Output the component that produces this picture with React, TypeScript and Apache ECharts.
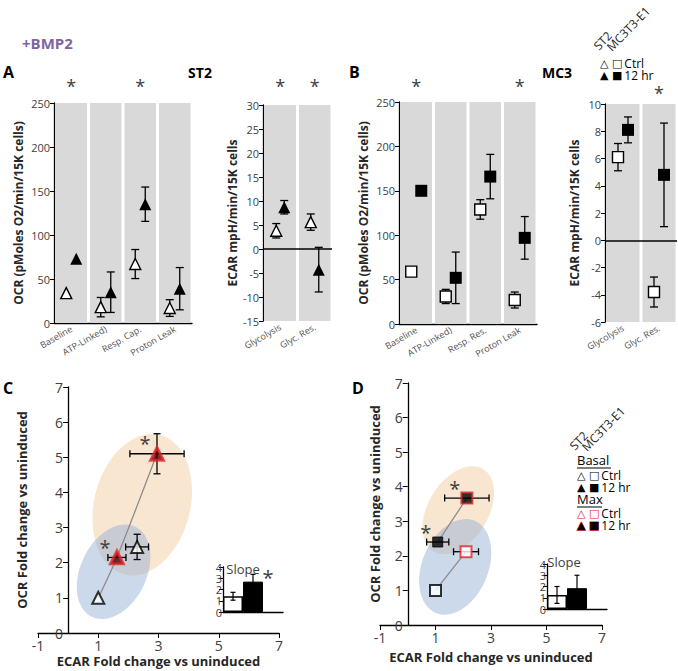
import React, { useEffect, useRef } from 'react';
import * as echarts from 'echarts';

const FONT = '"Open Sans", "Noto Sans", sans-serif';
const SYM_FONT = '"DejaVu Sans", sans-serif';

// ---------- DATA ----------
const ocrCatsA = ['Baseline', 'ATP-Linked)', 'Resp. Cap.', 'Proton Leak'];
const ocrCatsB = ['Baseline', 'ATP-Linked)', 'Resp. Res.', 'Proton Leak'];
const ecarCats = ['Glycolysis', 'Glyc. Res.'];

const st2OcrCtrl = [34, 18, 67, 17];
const st2OcrCtrlErr = [0, 11, 16.5, 9.5];
const st2Ocr12 = [73, 35, 135, 39];
const st2Ocr12Err = [0, 23, 19.5, 24];
const st2OcrStars = [true, false, true, false];

const st2EcarCtrl = [3.8, 5.6];
const st2EcarCtrlErr = [1.5, 1.7];
const st2Ecar12 = [8.7, -4.3];
const st2Ecar12Err = [1.4, 4.65];
const st2EcarStars = [true, true];

const mc3OcrCtrl = [59, 31, 129, 27];
const mc3OcrCtrlErr = [0, 8, 11, 9];
const mc3Ocr12 = [150, 52, 166, 97];
const mc3Ocr12Err = [0, 29, 25, 24];
const mc3OcrStars = [true, false, false, true];

const mc3EcarCtrl = [6.1, -3.8];
const mc3EcarCtrlErr = [1.0, 1.1];
const mc3Ecar12 = [8.1, 4.8];
const mc3Ecar12Err = [0.95, 3.8];
const mc3EcarStars = [false, true];

// C: ST2 fold change (Basal Ctrl, Basal 12 hr, Max Ctrl, Max 12 hr)
const cX = [1, 2.29, 1.62, 2.95];
const cY = [1, 2.45, 2.15, 5.1];
const cXErr = [0, 0.38, 0.3, 0.9];
const cYErr = [0, 0.36, 0.05, 0.57];
const cStars = [false, false, true, true];
const cLineOrder = [[0, 2, 3]];

// D: MC3T3-E1 fold change
const dX = [1, 1.08, 2.1, 2.13];
const dY = [1, 2.4, 2.12, 3.67];
const dXErr = [0, 0.4, 0.45, 0.8];
const dYErr = [0, 0, 0, 0];
const dStars = [false, true, false, true];
const dLineOrder = [[0, 2], [1, 3]];

const slopeCats = ['Ctrl', '12 hr', ''];
const cSlope = [1.4, 2.7];
const cSlopeErr = [0.35, 0.65];
const cSlopeStars = [false, true];
const dSlope = [1.25, 1.85];
const dSlopeErr = [0.75, 1.15];
const dSlopeStars = [false, false];

// ---------- helpers ----------
const ln = (x1: number, y1: number, x2: number, y2: number, w = 1.3, c = '#000') => ({
  type: 'line',
  shape: { x1, y1, x2, y2 },
  style: { stroke: c, lineWidth: w },
});

const T = (text: string, x: number, y: number, extra: any = {}, el: any = {}) => ({
  type: 'text',
  x,
  y,
  ...el,
  style: { text, fontFamily: FONT, fontSize: 13, fill: '#000', verticalAlign: 'middle', ...extra },
});

export default function App() {
  const ref = useRef<HTMLDivElement>(null);

  useEffect(() => {
    document.body.style.margin = '0';
    if (!ref.current) return;
    const chart = echarts.init(ref.current, undefined, { renderer: 'svg' });

    const grids: any[] = [];
    const xAxes: any[] = [];
    const yAxes: any[] = [];
    const series: any[] = [];

    const topPanels = [
      { left: 54, top: 103, width: 138, height: 220, cats: ocrCatsA, min: 0, max: 250, interval: 50, yName: 'OCR (pMoles O2/min/15K cells)', nameGap: 30, ctrl: st2OcrCtrl, ctrlErr: st2OcrCtrlErr, hr: st2Ocr12, hrErr: st2Ocr12Err, stars: st2OcrStars, shape: 'triangle', off: 5, starDy: 17, zero: false },
      { left: 263, top: 105, width: 69, height: 216, cats: ecarCats, min: -15, max: 30, interval: 5, yName: 'ECAR mpH/min/15K cells', nameGap: 25, ctrl: st2EcarCtrl, ctrlErr: st2EcarCtrlErr, hr: st2Ecar12, hrErr: st2Ecar12Err, stars: st2EcarStars, shape: 'triangle', off: 4, starDy: 19, zero: true },
      { left: 399, top: 102, width: 138, height: 222, cats: ocrCatsB, min: 0, max: 250, interval: 50, yName: 'OCR (pMoles O2/min/15K cells)', nameGap: 30, ctrl: mc3OcrCtrl, ctrlErr: mc3OcrCtrlErr, hr: mc3Ocr12, hrErr: mc3Ocr12Err, stars: mc3OcrStars, shape: 'rect', off: 5, starDy: 16, zero: false },
      { left: 605, top: 104, width: 72, height: 218, cats: ecarCats, min: -6, max: 10, interval: 2, yName: 'ECAR mpH/min/15K cells', nameGap: 25, ctrl: mc3EcarCtrl, ctrlErr: mc3EcarCtrlErr, hr: mc3Ecar12, hrErr: mc3Ecar12Err, stars: mc3EcarStars, shape: 'rect', off: 5, starDy: 11, zero: true },
    ];

    topPanels.forEach((p, g) => {
      grids.push({ left: p.left, top: p.top, width: p.width, height: p.height, outerBoundsMode: 'none', containLabel: false });
      xAxes.push({
        type: 'category', gridIndex: g, data: p.cats,
        axisLine: { show: !p.zero, onZero: false, lineStyle: { color: '#000', width: 1.3 } },
        axisTick: { show: false },
        axisLabel: { interval: 0, rotate: 30, fontSize: 9, color: '#4d4d4d', fontFamily: FONT, margin: 5 },
      });
      yAxes.push({
        type: 'value', gridIndex: g, min: p.min, max: p.max, interval: p.interval,
        axisLine: { show: true, lineStyle: { color: '#000', width: 1.3 } },
        axisTick: { show: true, length: 4, lineStyle: { color: '#000' } },
        axisLabel: { fontSize: 11, color: '#404040', fontFamily: FONT, margin: 4 },
        splitLine: { show: false },
        name: p.yName, nameLocation: 'middle', nameGap: p.nameGap,
        nameTextStyle: { fontSize: 12, fontWeight: 'bold', color: '#262626', fontFamily: FONT },
      });
      // gray column backgrounds
      series.push({
        type: 'custom', xAxisIndex: g, yAxisIndex: g, z: 1, silent: true,
        data: p.cats.map((_, i) => [i, p.max]),
        encode: { x: 0, y: 1 },
        renderItem: (params: any, api: any) => {
          const i = api.value(0);
          const top = api.coord([i, p.max]);
          const bot = api.coord([i, p.min]);
          const w = api.size([1, 0])[0];
          return {
            type: 'rect',
            shape: { x: top[0] - w / 2 + 1.5, y: top[1], width: w - 3, height: bot[1] - top[1] },
            style: { fill: '#d9d9d9' },
          };
        },
      });
      // error bars
      const errSeries = (vals: number[], errs: number[], off: number) => ({
        type: 'custom', xAxisIndex: g, yAxisIndex: g, z: 3, silent: true,
        data: vals.map((v, i) => [i, v, errs[i]]),
        encode: { x: 0, y: 1 },
        renderItem: (params: any, api: any) => {
          const i = api.value(0), v = api.value(1), e = api.value(2);
          if (!e) return null;
          const c = api.coord([i, v]);
          const hi = api.coord([i, v + e]);
          const lo = api.coord([i, v - e]);
          const x = c[0] + off;
          return { type: 'group', children: [ln(x, hi[1], x, lo[1]), ln(x - 4, hi[1], x + 4, hi[1]), ln(x - 4, lo[1], x + 4, lo[1])] };
        },
      });
      series.push(errSeries(p.ctrl, p.ctrlErr, -p.off));
      series.push(errSeries(p.hr, p.hrErr, p.off));
      // markers
      series.push({
        type: 'scatter', xAxisIndex: g, yAxisIndex: g, z: 4, name: 'Ctrl',
        symbol: p.shape, symbolSize: 11, symbolOffset: [-p.off, 0],
        itemStyle: { color: '#fff', borderColor: '#000', borderWidth: 1.4, opacity: 1 },
        data: p.ctrl.map((v, i) => [i, v]),
        markLine: p.zero ? {
          silent: true, symbol: 'none', label: { show: false },
          lineStyle: { color: '#000', width: 1.5, type: 'solid' },
          data: [{ yAxis: 0 }],
        } : undefined,
      });
      series.push({
        type: 'scatter', xAxisIndex: g, yAxisIndex: g, z: 4, name: '12 hr',
        symbol: p.shape, symbolSize: 12, symbolOffset: [p.off, 0],
        itemStyle: { color: '#000', opacity: 1 },
        data: p.hr.map((v, i) => [i, v]),
      });
      // significance stars
      series.push({
        type: 'custom', xAxisIndex: g, yAxisIndex: g, z: 5, silent: true, clip: false,
        data: p.cats.map((_, i) => [i, p.max, p.stars[i] ? 1 : 0]),
        encode: { x: 0, y: 1 },
        renderItem: (params: any, api: any) => {
          if (!api.value(2)) return null;
          const c = api.coord([api.value(0), p.max]);
          return { type: 'text', x: c[0], y: c[1] - p.starDy, style: { text: '*', fill: '#404040', fontSize: 18, fontFamily: FONT, align: 'center', verticalAlign: 'middle' } };
        },
      });
    });

    // ---------- C & D scatter panels ----------
    const scatterPanels = [
      {
        left: 38, top: 387, width: 241, height: 246, yNameGap: 40, xNameGap: 21,
        X: cX, Y: cY, XE: cXErr, YE: cYErr, stars: cStars, lines: cLineOrder,
        clouds: [
          { cx: 2.46, cy: 3.65, rx: 48, ry: 72, rot: -0.25, fill: 'rgba(247,222,192,0.75)' },
          { cx: 1.51, cy: 1.74, rx: 33, ry: 50, rot: -0.45, fill: 'rgba(140,170,210,0.45)' },
        ],
        styles: [
          { symbol: 'triangle', symbolSize: 12, itemStyle: { color: '#fff', borderColor: '#000', borderWidth: 2 } },
          { symbol: 'triangle', symbolSize: 12, itemStyle: { color: '#fff', borderColor: '#000', borderWidth: 2 } },
          { symbol: 'triangle', symbolSize: 13, itemStyle: { color: '#5a0000', borderColor: '#e0262a', borderWidth: 2.8 } },
          { symbol: 'triangle', symbolSize: 13, itemStyle: { color: '#5a0000', borderColor: '#e0262a', borderWidth: 2.8 } },
        ],
        inset: { left: 223, top: 567, width: 60, height: 45, vals: cSlope, errs: cSlopeErr, stars: cSlopeStars },
        slopeX: 243, slopeY: 569,
      },
      {
        left: 380, top: 383, width: 222, height: 242, yNameGap: 26, xNameGap: 25,
        X: dX, Y: dY, XE: dXErr, YE: dYErr, stars: dStars, lines: dLineOrder,
        clouds: [
          { cx: 1.82, cy: 3.32, rx: 30, ry: 48, rot: -0.55, fill: 'rgba(247,222,192,0.75)' },
          { cx: 1.71, cy: 1.68, rx: 33, ry: 50, rot: -0.4, fill: 'rgba(140,170,210,0.45)' },
        ],
        styles: [
          { symbol: 'rect', symbolSize: 11, itemStyle: { color: '#fff', borderColor: '#000', borderWidth: 2 } },
          { symbol: 'rect', symbolSize: 10, itemStyle: { color: '#000', borderColor: '#000', borderWidth: 1 } },
          { symbol: 'rect', symbolSize: 11, itemStyle: { color: '#fff', borderColor: '#e0262a', borderWidth: 2 } },
          { symbol: 'rect', symbolSize: 11, itemStyle: { color: '#000', borderColor: '#e0262a', borderWidth: 2 } },
        ],
        inset: { left: 547, top: 564, width: 60, height: 45, vals: dSlope, errs: dSlopeErr, stars: dSlopeStars },
        slopeX: 564, slopeY: 562,
      },
    ];

    scatterPanels.forEach((p) => {
      const g = grids.length;
      grids.push({ left: p.left, top: p.top, width: p.width, height: p.height, outerBoundsMode: 'none', containLabel: false });
      xAxes.push({
        type: 'value', gridIndex: g, min: -1, max: 7, interval: 2,
        axisLine: { show: true, onZero: false, lineStyle: { color: '#000', width: 1.3 } },
        axisTick: { show: true, length: 5, lineStyle: { color: '#000' } },
        axisLabel: { fontSize: 14, color: '#404040', fontFamily: FONT, margin: 5 },
        splitLine: { show: false },
        name: 'ECAR Fold change vs uninduced', nameLocation: 'middle', nameGap: p.xNameGap,
        nameTextStyle: { fontSize: 13, fontWeight: 'bold', color: '#262626', fontFamily: FONT },
      });
      // y axis sits at x = 0 (1/8 of the -1..7 range from the left edge)
      yAxes.push({
        type: 'value', gridIndex: g, min: 0, max: 7, interval: 1, offset: -p.width / 8,
        axisLine: { show: true, onZero: false, lineStyle: { color: '#000', width: 1.3 } },
        axisTick: { show: true, length: 5, lineStyle: { color: '#000' } },
        axisLabel: { fontSize: 14, color: '#404040', fontFamily: FONT, margin: 5 },
        splitLine: { show: false },
        name: 'OCR Fold change vs uninduced', nameLocation: 'middle', nameGap: p.yNameGap,
        nameTextStyle: { fontSize: 13, fontWeight: 'bold', color: '#262626', fontFamily: FONT },
      });
      // clouds
      series.push({
        type: 'custom', xAxisIndex: g, yAxisIndex: g, z: 1, silent: true,
        data: p.clouds.map((c, i) => [c.cx, c.cy, i]),
        encode: { x: 0, y: 1 },
        renderItem: (params: any, api: any) => {
          const c = p.clouds[api.value(2)];
          const pt = api.coord([api.value(0), api.value(1)]);
          return { type: 'ellipse', x: pt[0], y: pt[1], rotation: c.rot, shape: { cx: 0, cy: 0, rx: c.rx, ry: c.ry }, style: { fill: c.fill } };
        },
      });
      // connecting lines
      p.lines.forEach((order) => {
        series.push({
          type: 'line', xAxisIndex: g, yAxisIndex: g, z: 2, silent: true, symbol: 'none', smooth: order.length > 2 ? 0.25 : false,
          lineStyle: { color: '#8c8c8c', width: 1.3 },
          data: order.map((k) => [p.X[k], p.Y[k]]),
        });
      });
      // error bars
      series.push({
        type: 'custom', xAxisIndex: g, yAxisIndex: g, z: 3, silent: true,
        data: p.X.map((x, i) => [x, p.Y[i], p.XE[i], p.YE[i]]),
        encode: { x: 0, y: 1 },
        renderItem: (params: any, api: any) => {
          const x = api.value(0), y = api.value(1), xe = api.value(2), ye = api.value(3);
          const c = api.coord([x, y]);
          const ch: any[] = [];
          if (xe > 0) {
            const l = api.coord([x - xe, y]), r = api.coord([x + xe, y]);
            ch.push(ln(l[0], c[1], r[0], c[1]), ln(l[0], c[1] - 3.5, l[0], c[1] + 3.5), ln(r[0], c[1] - 3.5, r[0], c[1] + 3.5));
          }
          if (ye > 0.1) {
            const t = api.coord([x, y + ye]), b = api.coord([x, y - ye]);
            ch.push(ln(c[0], t[1], c[0], b[1]), ln(c[0] - 3.5, t[1], c[0] + 3.5, t[1]), ln(c[0] - 3.5, b[1], c[0] + 3.5, b[1]));
          }
          return ch.length ? { type: 'group', children: ch } : null;
        },
      });
      // points
      series.push({
        type: 'scatter', xAxisIndex: g, yAxisIndex: g, z: 4,
        data: p.X.map((x, i) => ({ value: [x, p.Y[i]], ...p.styles[i] })),
      });
      // stars
      series.push({
        type: 'custom', xAxisIndex: g, yAxisIndex: g, z: 5, silent: true, clip: false,
        data: p.X.map((x, i) => [x, p.Y[i], p.stars[i] ? 1 : 0]),
        encode: { x: 0, y: 1 },
        renderItem: (params: any, api: any) => {
          if (!api.value(2)) return null;
          const c = api.coord([api.value(0), api.value(1)]);
          return { type: 'text', x: c[0] - 12, y: c[1] - 10, style: { text: '*', fill: '#404040', fontSize: 20, fontFamily: FONT, align: 'center', verticalAlign: 'middle' } };
        },
      });

      // slope inset
      const q = p.inset;
      const gi = grids.length;
      grids.push({ left: q.left, top: q.top, width: q.width, height: q.height, outerBoundsMode: 'none', containLabel: false });
      xAxes.push({
        type: 'category', gridIndex: gi, data: slopeCats,
        axisLine: { show: true, lineStyle: { color: '#000', width: 1.3 } },
        axisTick: { show: false }, axisLabel: { show: false },
      });
      yAxes.push({
        type: 'value', gridIndex: gi, min: 0, max: 4, interval: 1,
        axisLine: { show: true, lineStyle: { color: '#000', width: 1.3 } },
        axisTick: { show: true, length: 4, lineStyle: { color: '#000' } },
        axisLabel: { fontSize: 11, color: '#404040', fontFamily: FONT, margin: 1, lineHeight: 10 },
        splitLine: { show: false },
      });
      series.push({
        type: 'bar', xAxisIndex: gi, yAxisIndex: gi, z: 3, barWidth: '100%', silent: true,
        data: q.vals.map((v, i) => ({
          value: v,
          itemStyle: i === 0 ? { color: '#fff', borderColor: '#000', borderWidth: 1.5 } : { color: '#000', borderColor: '#000', borderWidth: 1 },
        })),
      });
      series.push({
        type: 'custom', xAxisIndex: gi, yAxisIndex: gi, z: 4, silent: true, clip: false,
        data: q.vals.map((v, i) => [i, v, q.errs[i], q.stars[i] ? 1 : 0]),
        encode: { x: 0, y: 1 },
        renderItem: (params: any, api: any) => {
          const i = api.value(0), v = api.value(1), e = api.value(2);
          const c = api.coord([i, v]);
          const t = api.coord([i, v + e]);
          const b = api.coord([i, Math.max(0, v - e)]);
          const ch: any[] = [ln(c[0], t[1], c[0], b[1], 1.2), ln(c[0] - 2.5, t[1], c[0] + 2.5, t[1], 1.2), ln(c[0] - 2.5, b[1], c[0] + 2.5, b[1], 1.2)];
          if (api.value(3)) {
            ch.push({ type: 'text', x: c[0] + 15, y: c[1] - 4, style: { text: '*', fill: '#404040', fontSize: 20, fontFamily: FONT, align: 'center', verticalAlign: 'middle' } });
          }
          return { type: 'group', children: ch };
        },
      });
    });

    // ---------- annotations ----------
    // one two-line rich-text block per legend group (Ctrl row, 12 hr row)
    const legendBlock = (x: number, y: number, red: boolean) => ({
      type: 'text',
      x,
      y: y - 6,
      style: {
        text: `{o|△ □}{t|Ctrl}\n{f|▲ ■}{t|12 hr}`,
        fontFamily: FONT,
        fontSize: 12,
        lineHeight: 12,
        verticalAlign: 'top',
        fill: '#000',
        rich: {
          o: { fontFamily: SYM_FONT, fontSize: 11, lineHeight: 12, fill: red ? '#e0262a' : '#000', padding: [0, 2, 0, 0] },
          f: red
            ? { fontFamily: SYM_FONT, fontSize: 11, lineHeight: 12, fill: '#000', stroke: '#e0262a', lineWidth: 1, padding: [0, 2, 0, 0] }
            : { fontFamily: SYM_FONT, fontSize: 11, lineHeight: 12, fill: '#000', padding: [0, 2, 0, 0] },
          t: { fontFamily: FONT, fontSize: 12, lineHeight: 12, fill: '#000' },
        },
      },
    });

    const graphic: any[] = [
      T('+BMP2', 22, 43, { fill: '#8064a2', fontSize: 15, fontWeight: 'bold' }),
      T('A', 3, 72, { fontSize: 16, fontWeight: 'bold' }),
      T('ST2', 200, 72, { fontSize: 14, fontWeight: 'bold', align: 'center' }),
      T('B', 349, 72, { fontSize: 16, fontWeight: 'bold' }),
      T('MC3', 557, 72, { fontSize: 14, fontWeight: 'bold', align: 'center' }),
      T('C', 3, 388, { fontSize: 16, fontWeight: 'bold' }),
      T('D', 352, 388, { fontSize: 16, fontWeight: 'bold' }),
      // top legend
      T('ST2', 600, 52, { fontSize: 12, verticalAlign: 'bottom', fill: '#262626' }, { rotation: 0.8 }),
      T('MC3T3-E1', 613, 53, { fontSize: 12, verticalAlign: 'bottom', fill: '#262626' }, { rotation: 0.8 }),
      legendBlock(600, 63, false),
      // D legend
      T('ST2', 576, 452, { fontSize: 12, verticalAlign: 'bottom', fill: '#262626' }, { rotation: 0.8 }),
      T('MC3T3-E1', 588, 453, { fontSize: 12, verticalAlign: 'bottom', fill: '#262626' }, { rotation: 0.8 }),
      T('Basal', 577, 460, { fontSize: 13, lineHeight: 13 }),
      ln(577, 468, 611, 468, 1),
      legendBlock(577, 475, false),
      T('Max', 577, 499, { fontSize: 13, lineHeight: 13 }),
      ln(577, 507, 602, 507, 1),
      legendBlock(577, 513, true),
      // slope labels
      ...scatterPanels.map((p) => T('Slope', p.slopeX, p.slopeY, { fontSize: 13, fill: '#404040', align: 'center' })),
    ];

    chart.setOption({
      animation: false,
      textStyle: { fontFamily: FONT },
      grid: grids,
      xAxis: xAxes,
      yAxis: yAxes,
      series,
      graphic,
    });

    return () => chart.dispose();
  }, []);

  return <div ref={ref} style={{ width: 678, height: 671 }} />;
}
